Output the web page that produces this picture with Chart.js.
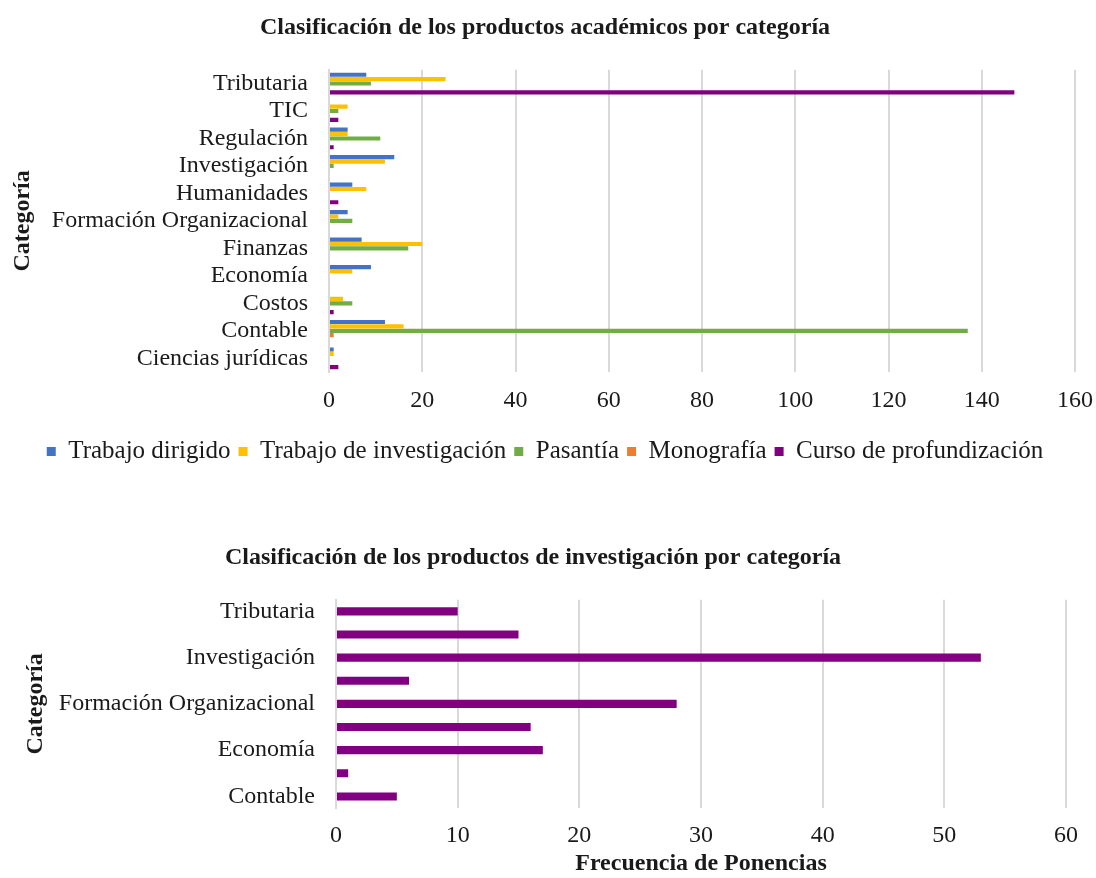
<!DOCTYPE html>
<html>
<head>
<meta charset="utf-8">
<script src="https://cdn.jsdelivr.net/npm/chart.js@4"></script>
<style>
  body { margin: 0; background: #fff; }
  #wrap1 { position: absolute; left: 0; top: 0; }
  #wrap2 { position: absolute; left: 0; top: 500px; }
</style>
</head>
<body>
<div id="wrap1"><canvas id="academicChart" width="1096" height="490"></canvas></div>
<div id="wrap2"><canvas id="researchChart" width="1096" height="378"></canvas></div>
<script>
// Top chart data
const categories = ['Tributaria', 'TIC', 'Regulación', 'Investigación', 'Humanidades', 'Formación Organizacional', 'Finanzas', 'Economía', 'Costos', 'Contable', 'Ciencias jurídicas'];
const trabajoDirigido = [8, 0, 4, 14, 5, 4, 7, 9, 0, 12, 1];
const trabajoInvestigacion = [25, 4, 4, 12, 8, 2, 20, 5, 3, 16, 1];
const pasantia = [9, 2, 11, 1, 0, 5, 17, 0, 5, 137, 0];
const monografia = [0, 0, 0, 0, 0, 0, 0, 0, 0, 1, 0];
const cursoProfundizacion = [147, 2, 1, 0, 2, 0, 0, 0, 1, 0, 2];

// Bottom chart data
const researchCategories = ['Tributaria', 'Regulación', 'Investigación', 'Humanidades', 'Formación Organizacional', 'Finanzas', 'Economía', 'Costos', 'Contable'];
const ponencias = [10, 15, 53, 6, 28, 16, 17, 1, 5];

const serif = "'Liberation Serif', 'Times New Roman', serif";
const gridColor = '#d9d9d9';
const textColor = '#1a1a1a';
const fs = 24;

Chart.defaults.font.family = serif;
Chart.defaults.color = textColor;
Chart.defaults.animation = false;

const ctx1 = document.getElementById('academicChart').getContext('2d');
const academicChart = new Chart(ctx1, {
    type: 'bar',
    data: {
        labels: categories,
        datasets: [
            { label: 'Trabajo dirigido', data: trabajoDirigido, backgroundColor: '#4472C4' },
            { label: 'Trabajo de investigación', data: trabajoInvestigacion, backgroundColor: '#FFC000' },
            { label: 'Pasantía', data: pasantia, backgroundColor: '#70AD47' },
            { label: 'Monografía', data: monografia, backgroundColor: '#ED7D31' },
            { label: 'Curso de profundización', data: cursoProfundizacion, backgroundColor: '#800080' }
        ]
    },
    options: {
        indexAxis: 'y',
        responsive: false,
        categoryPercentage: 0.8,
        barPercentage: 0.95,
        layout: { padding: { left: 0, right: 6, top: 0, bottom: 16 } },
        plugins: {
            title: {
                display: true,
                text: 'Clasificación de los productos académicos por categoría',
                font: { size: fs, weight: 'bold' },
                color: textColor,
                padding: { top: 13, bottom: 28 }
            },
            legend: {
                position: 'bottom',
                labels: { boxWidth: 9, boxHeight: 9, padding: 8, font: { size: 25 } }
            },
            tooltip: { enabled: false }
        },
        scales: {
            x: {
                min: 0,
                max: 160,
                ticks: { stepSize: 20, font: { size: fs }, color: textColor, padding: 14 },
                grid: { color: gridColor, lineWidth: 2, drawTicks: false },
                border: { display: false },
                afterFit: function(scale) { scale.height = 59; scale.paddingRight = 21; }
            },
            y: {
                ticks: { font: { size: fs }, color: textColor, padding: 21, autoSkip: false },
                grid: { display: false, drawTicks: false },
                border: { color: gridColor, width: 2 },
                title: { display: true, text: 'Categoría', font: { size: fs, weight: 'bold' }, color: textColor, padding: { top: 8, bottom: 0 } },
                afterFit: function(scale) { scale.width = 329; }
            }
        }
    }
});

const ctx2 = document.getElementById('researchChart').getContext('2d');
const researchChart = new Chart(ctx2, {
    type: 'bar',
    data: {
        labels: researchCategories,
        datasets: [
            { label: 'Ponencias', data: ponencias, backgroundColor: '#800080' }
        ]
    },
    options: {
        indexAxis: 'y',
        responsive: false,
        categoryPercentage: 0.35,
        barPercentage: 1,
        layout: { padding: { left: 0, right: 30, top: 0, bottom: 0 } },
        plugins: {
            title: {
                display: true,
                text: 'Clasificación de los productos de investigación por categoría',
                font: { size: fs, weight: 'bold' },
                color: textColor,
                padding: { top: 43, bottom: 28 }
            },
            legend: { display: false },
            tooltip: { enabled: false }
        },
        scales: {
            x: {
                min: 0,
                max: 60,
                ticks: { stepSize: 10, font: { size: fs }, color: textColor, padding: 13 },
                grid: { color: gridColor, lineWidth: 2, drawTicks: false },
                border: { display: false },
                title: { display: true, text: 'Frecuencia de Ponencias', font: { size: fs, weight: 'bold' }, color: textColor, padding: { top: 4, bottom: 0 } },
                afterFit: function(scale) { scale.height = 70; scale.paddingRight = 0; }
            },
            y: {
                ticks: {
                    font: { size: fs },
                    color: textColor,
                    padding: 21,
                    autoSkip: false,
                    // Excel shows only every other label here
                    callback: function(value, index) {
                        return index % 2 === 0 ? this.getLabelForValue(value) : '';
                    }
                },
                grid: { display: false, drawTicks: false },
                border: { color: gridColor, width: 2 },
                title: { display: true, text: 'Categoría', font: { size: fs, weight: 'bold' }, color: textColor, padding: { top: 21, bottom: 0 } },
                afterFit: function(scale) { scale.width = 336; }
            }
        }
    }
});
</script>
</body>
</html>
